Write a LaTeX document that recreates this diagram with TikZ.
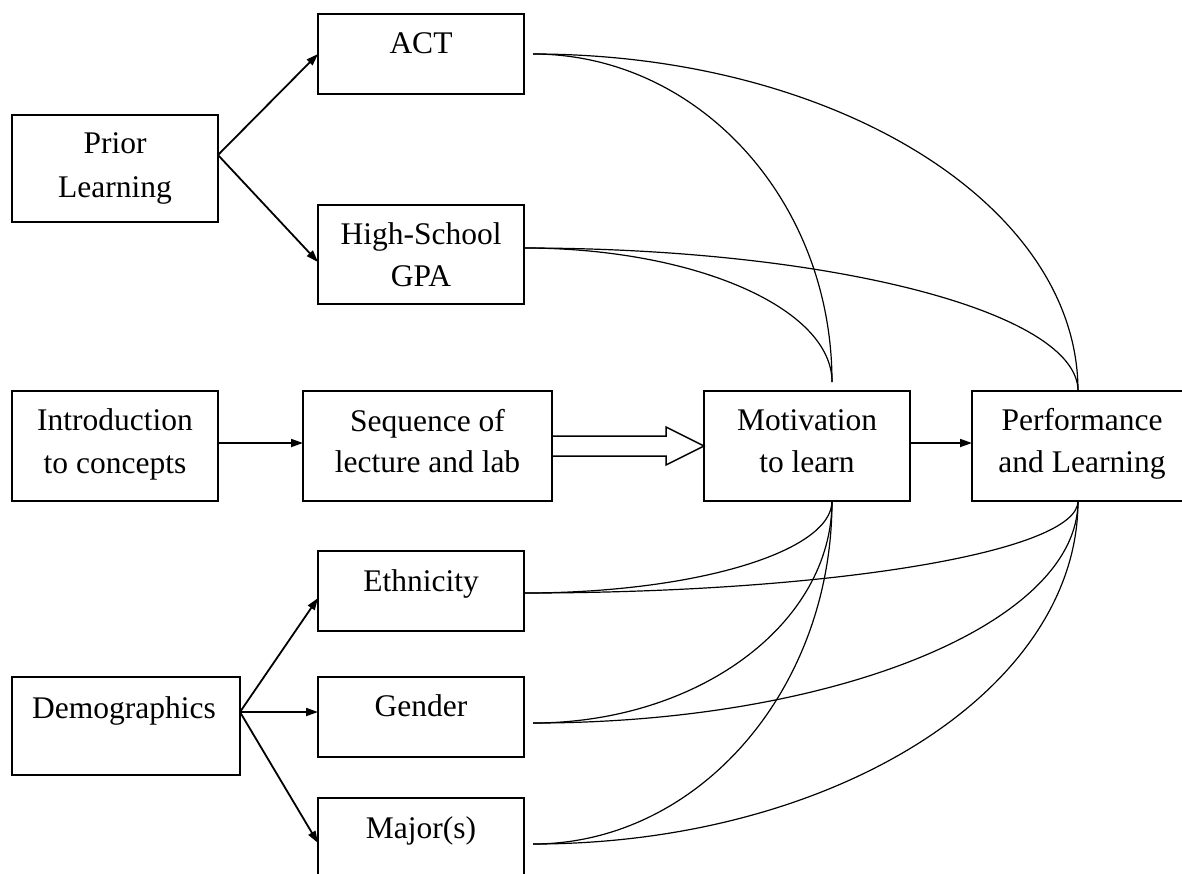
\documentclass[tikz,border=0pt]{standalone}
\usepackage{fontspec}
\setmainfont{Liberation Serif}
\usetikzlibrary{arrows.meta}
\begin{document}
\begin{tikzpicture}[x=1pt,y=-1pt,
  box/.style={draw, line width=1.6pt, inner sep=0pt, outer sep=0pt},
  txt/.style={anchor=base, inner sep=0pt, font=\fontsize{31.5}{43}\selectfont},
  arr/.style={line width=1.8pt, -{Triangle[length=12pt,width=8pt]}},
  link/.style={line width=1.2pt},
  hollow/.style={line width=1.5pt, line join=miter}]
\useasboundingbox (0,0) rectangle (1182,873);
\clip (0,0) rectangle (1182,873);

% boxes
\node[box, minimum width=206pt, minimum height=107pt] (prior) at (115,168.5) {};
\node[box, minimum width=206pt, minimum height=80pt]  (act)   at (421,54) {};
\node[box, minimum width=206pt, minimum height=99pt]  (hs)    at (421,254.5) {};
\node[box, minimum width=206pt, minimum height=110pt] (intro) at (115,446) {};
\node[box, minimum width=249pt, minimum height=110pt] (seq)   at (427.5,446) {};
\node[box, minimum width=206pt, minimum height=110pt] (mot)   at (807,446) {};
\node[box, minimum width=220pt, minimum height=110pt] (perf)  at (1082,446) {};
\node[box, minimum width=206pt, minimum height=80pt]  (eth)   at (421,591) {};
\node[box, minimum width=228pt, minimum height=98pt]  (demo)  at (126,726) {};
\node[box, minimum width=206pt, minimum height=80pt]  (gender) at (421,717) {};
\node[box, minimum width=206pt, minimum height=80pt]  (major) at (421,838) {};

% texts
\node[txt] (priorA) at (115,153) {Prior};
\node[txt] (priorB) at (115,197) {Learning};
\node[txt] (actA) at (421,53) {ACT};
\node[txt] (hsA) at (421,244) {High-School};
\node[txt] (hsB) at (421,286) {GPA};
\node[txt] (introA) at (115,430) {Introduction};
\node[txt] (introB) at (115,473) {to concepts};
\node[txt] (seqA) at (427.5,431) {Sequence of};
\node[txt] (seqB) at (427.5,472) {lecture and lab};
\node[txt] (motA) at (807,430) {Motivation};
\node[txt] (motB) at (807,472) {to learn};
\node[txt] (perfA) at (1082,430) {Performance};
\node[txt] (perfB) at (1082,472) {and Learning};
\node[txt] (ethA) at (421,591) {Ethnicity};
\node[txt] (demoA) at (124,718) {Demographics};
\node[txt] (genderA) at (421,716) {Gender};
\node[txt] (majorA) at (421,838) {Major(s)};

% straight arrows
\draw[arr] ([yshift=13.5pt]prior.east) -- (act.west);
\draw[arr] ([yshift=13.5pt]prior.east) -- ([yshift=-7.5pt]hs.west);
\draw[arr] ([yshift=3pt]intro.east) -- ([yshift=3pt]seq.west);
\draw[arr] ([yshift=3pt]mot.east) -- ([yshift=3pt]perf.west);
\draw[arr] ([yshift=14pt]demo.east) -- ([yshift=-7pt]eth.west);
\draw[arr] ([yshift=14pt]demo.east) -- ([yshift=5pt]gender.west);
\draw[arr] ([yshift=14pt]demo.east) -- ([yshift=-5pt]major.west);

% hollow arrow
\draw[hollow] ([yshift=10pt]seq.east) -- ++(114,0) -- ++(0,-9) -- (mot.west)
  -- ++(-38,19) -- ++(0,-9) -- ++(-114,0);

% named ends of curves
\coordinate (motT) at ([xshift=25pt,yshift=9pt]mot.north);
\coordinate (perfT) at ([xshift=-4pt]perf.north);
\coordinate (motB) at ([xshift=25pt]mot.south);
\coordinate (perfB) at ([xshift=-4pt]perf.south);

% curves
\draw[link] ([xshift=9pt]act.east) .. controls +(165,0) and +(0,-182) .. (motT);
\draw[link] ([xshift=9pt]act.east) .. controls +(301,0) and +(0,-187) .. (perfT);
\draw[link] ([yshift=6.5pt]hs.east) .. controls +(170,0) and +(0,-74) .. (motT);
\draw[link] ([yshift=6.5pt]hs.east) .. controls +(306,0) and +(0,-79) .. (perfT);
\draw[link] ([yshift=-2pt]eth.east) .. controls +(170,0) and +(0,51) .. (motB);
\draw[link] ([yshift=-2pt]eth.east) .. controls +(306,0) and +(0,51) .. (perfB);
\draw[link] ([xshift=9pt,yshift=-6pt]gender.east) .. controls +(165,0) and +(0,123) .. (motB);
\draw[link] ([xshift=9pt,yshift=-6pt]gender.east) .. controls +(301,0) and +(0,123) .. (perfB);
\draw[link] ([xshift=9pt,yshift=-6pt]major.east) .. controls +(165,0) and +(0,189) .. (motB);
\draw[link] ([xshift=9pt,yshift=-6pt]major.east) .. controls +(301,0) and +(0,189) .. (perfB);
\end{tikzpicture}
\end{document}
